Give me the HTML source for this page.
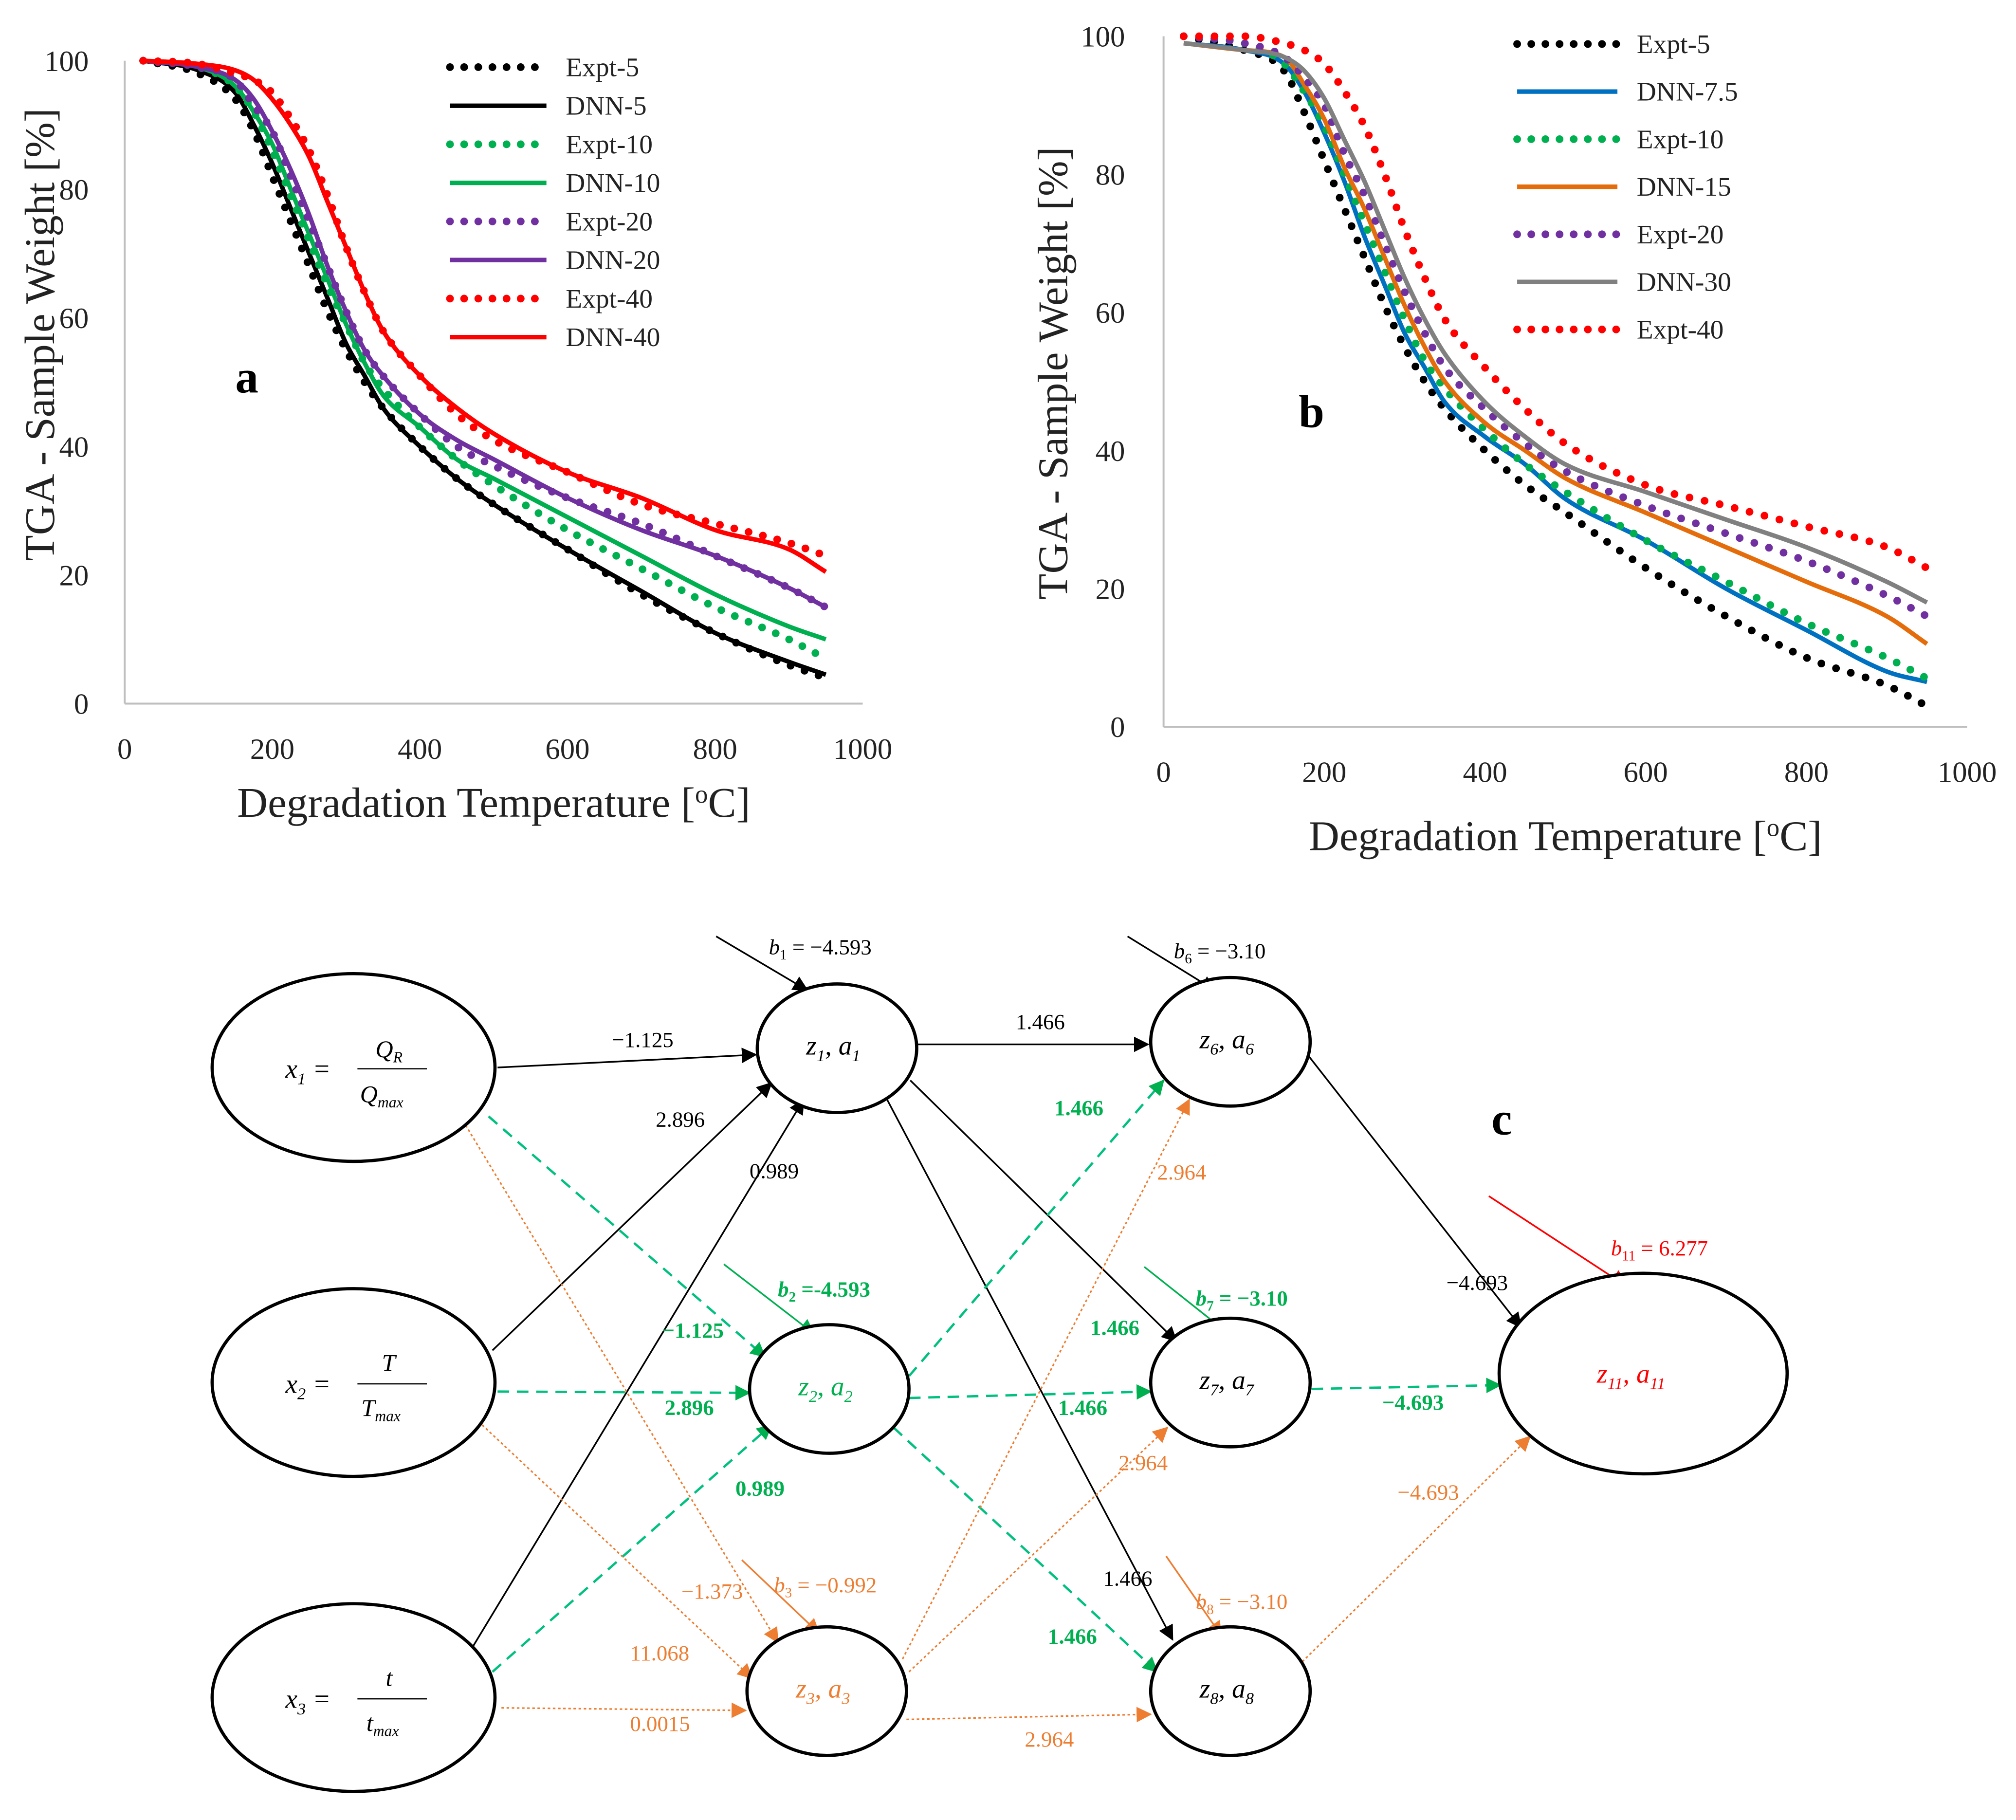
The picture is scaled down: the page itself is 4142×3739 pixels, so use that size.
<!DOCTYPE html>
<html><head><meta charset="utf-8"><style>
html,body{margin:0;padding:0;background:#fff;}
svg{display:block;}
text{font-family:"Liberation Serif",serif;}
.tick{font-size:23px;fill:#222;}
.leg{font-size:21px;fill:#222;}
.mono{font-family:"Liberation Serif",serif;font-size:17px;}
</style></head><body>
<svg id="root" width="4142" height="3739" viewBox="0 0 1568 1415" xmlns="http://www.w3.org/2000/svg">
<defs>
<marker id="ag" markerWidth="12" markerHeight="12" refX="11" refY="6" orient="auto" markerUnits="userSpaceOnUse"><path d="M0,0 L12,6 L0,12 z" fill="#00b050"/></marker>
<marker id="ao" markerWidth="12" markerHeight="12" refX="11" refY="6" orient="auto" markerUnits="userSpaceOnUse"><path d="M0,0 L12,6 L0,12 z" fill="#ed7d31"/></marker>
<marker id="ab" markerWidth="12" markerHeight="12" refX="11" refY="6" orient="auto" markerUnits="userSpaceOnUse"><path d="M0,0 L12,6 L0,12 z" fill="#000"/></marker>
<marker id="ar" markerWidth="14" markerHeight="14" refX="12" refY="7" orient="auto" markerUnits="userSpaceOnUse"><path d="M0,0 L14,7 L0,14 z" fill="#ff0000"/></marker>
</defs>
<g id="chartA"></g>
<g id="chartB"></g>
<text x="183" y="305" font-size="36" font-weight="bold">a</text>
<text x="1010" y="332" font-size="36" font-weight="bold">b</text>
<text x="1160" y="882" font-size="36" font-weight="bold">c</text>

<g id="network" fill="none" stroke-width="1.3">
<g stroke="#000">
<line x1="387" y1="830" x2="588" y2="820" marker-end="url(#ab)"/>
<line x1="383" y1="1050" x2="600" y2="842" marker-end="url(#ab)"/>
<line x1="368" y1="1280" x2="625" y2="855" marker-end="url(#ab)"/>
<line x1="557" y1="728" x2="628" y2="770" marker-end="url(#ab)"/>
<line x1="713" y1="812" x2="893" y2="812" marker-end="url(#ab)"/>
<line x1="708" y1="840" x2="915" y2="1043" marker-end="url(#ab)"/>
<line x1="690" y1="855" x2="912" y2="1275" marker-end="url(#ab)"/>
<line x1="877" y1="728" x2="945" y2="770" marker-end="url(#ab)"/>
<line x1="1017" y1="820" x2="1183" y2="1032" marker-end="url(#ab)"/>
</g>
<g stroke="#00c080" stroke-width="1.8" stroke-dasharray="9 6">
<line x1="380" y1="868" x2="595" y2="1055" marker-end="url(#ag)"/>
<line x1="387" y1="1082" x2="583" y2="1083" marker-end="url(#ag)"/>
<line x1="383" y1="1300" x2="600" y2="1108" marker-end="url(#ag)"/>
<line x1="707" y1="1070" x2="905" y2="840" marker-end="url(#ag)"/>
<line x1="707" y1="1087" x2="895" y2="1082" marker-end="url(#ag)"/>
<line x1="695" y1="1110" x2="900" y2="1300" marker-end="url(#ag)"/>
<line x1="1020" y1="1080" x2="1167" y2="1077" marker-end="url(#ag)"/>
</g>
<line x1="563" y1="983" x2="633" y2="1037" stroke="#00b050" marker-end="url(#ag)"/>
<line x1="890" y1="985" x2="953" y2="1035" stroke="#00b050" marker-end="url(#ag)"/>
<g stroke="#ed7d31" stroke-width="1.2" stroke-dasharray="2 2">
<line x1="358" y1="868" x2="605" y2="1277" marker-end="url(#ao)"/>
<line x1="375" y1="1108" x2="585" y2="1305" marker-end="url(#ao)"/>
<line x1="390" y1="1328" x2="580" y2="1330" marker-end="url(#ao)"/>
<line x1="702" y1="1290" x2="925" y2="855" marker-end="url(#ao)"/>
<line x1="707" y1="1300" x2="908" y2="1110" marker-end="url(#ao)"/>
<line x1="705" y1="1337" x2="895" y2="1333" marker-end="url(#ao)"/>
<line x1="1010" y1="1295" x2="1190" y2="1117" marker-end="url(#ao)"/>
</g>
<line x1="577" y1="1213" x2="637" y2="1270" stroke="#ed7d31" marker-end="url(#ao)"/>
<line x1="907" y1="1210" x2="950" y2="1272" stroke="#ed7d31" marker-end="url(#ao)"/>
<line x1="1158" y1="930" x2="1265" y2="1000" stroke="#ff0000" marker-end="url(#ar)"/>
<g stroke="#000" stroke-width="2.5" fill="#fff">
<ellipse cx="275" cy="830" rx="110" ry="73"/>
<ellipse cx="275" cy="1075" rx="110" ry="73"/>
<ellipse cx="275" cy="1320" rx="110" ry="73"/>
<ellipse cx="651" cy="815" rx="62" ry="50"/>
<ellipse cx="645" cy="1080" rx="62" ry="50"/>
<ellipse cx="643" cy="1315" rx="62" ry="50"/>
<ellipse cx="957" cy="810" rx="62" ry="50"/>
<ellipse cx="957" cy="1075" rx="62" ry="50"/>
<ellipse cx="957" cy="1315" rx="62" ry="50"/>
<ellipse cx="1278" cy="1068" rx="112" ry="78"/>
</g>
</g>
<g font-style="italic" font-size="21" fill="#000" stroke="none">
<text x="222" y="838">x<tspan font-size="13" dy="5">1</tspan><tspan dy="-5"> = </tspan></text>
<text x="292" y="822" font-size="19">Q<tspan font-size="12" dy="4">R</tspan></text><line x1="278" y1="831" x2="332" y2="831" stroke="#000"/>
<text x="280" y="857" font-size="19">Q<tspan font-size="12" dy="4">max</tspan></text>
<text x="222" y="1083">x<tspan font-size="13" dy="5">2</tspan><tspan dy="-5"> = </tspan></text>
<text x="297" y="1066" font-size="19">T</text><line x1="278" y1="1076" x2="332" y2="1076" stroke="#000"/>
<text x="281" y="1101" font-size="19">T<tspan font-size="12" dy="4">max</tspan></text>
<text x="222" y="1328">x<tspan font-size="13" dy="5">3</tspan><tspan dy="-5"> = </tspan></text>
<text x="300" y="1311" font-size="19">t</text><line x1="278" y1="1321" x2="332" y2="1321" stroke="#000"/>
<text x="285" y="1346" font-size="19">t<tspan font-size="12" dy="4">max</tspan></text>
<text x="627" y="820">z<tspan font-size="13" dy="5">1</tspan><tspan dy="-5">, a</tspan><tspan font-size="13" dy="5">1</tspan></text>
<text x="621" y="1085" fill="#00b050">z<tspan font-size="13" dy="5">2</tspan><tspan dy="-5">, a</tspan><tspan font-size="13" dy="5">2</tspan></text>
<text x="619" y="1320" fill="#ed7d31">z<tspan font-size="13" dy="5">3</tspan><tspan dy="-5">, a</tspan><tspan font-size="13" dy="5">3</tspan></text>
<text x="933" y="815">z<tspan font-size="13" dy="5">6</tspan><tspan dy="-5">, a</tspan><tspan font-size="13" dy="5">6</tspan></text>
<text x="933" y="1080">z<tspan font-size="13" dy="5">7</tspan><tspan dy="-5">, a</tspan><tspan font-size="13" dy="5">7</tspan></text>
<text x="933" y="1320">z<tspan font-size="13" dy="5">8</tspan><tspan dy="-5">, a</tspan><tspan font-size="13" dy="5">8</tspan></text>
<text x="1242" y="1075" fill="#ff0000">z<tspan font-size="13" dy="5">11</tspan><tspan dy="-5">, a</tspan><tspan font-size="13" dy="5">11</tspan></text>
</g>
<g class="mono">
<text x="476" y="814" fill="#000">−1.125</text>
<text x="510" y="876" fill="#000">2.896</text>
<text x="583" y="916" fill="#000">0.989</text>
<text x="598" y="742" fill="#000"><tspan font-style="italic">b</tspan><tspan font-size="11" dy="4">1</tspan><tspan dy="-4"> = −4.593</tspan></text>
<text x="790" y="800" fill="#000">1.466</text>
<text x="913" y="745" fill="#000"><tspan font-style="italic">b</tspan><tspan font-size="11" dy="4">6</tspan><tspan dy="-4"> =  −3.10</tspan></text>
<text x="1125" y="1003" fill="#000">−4.693</text>
<text x="858" y="1233" fill="#000">1.466</text>
<text x="823" y="1100" fill="#00b050" font-weight="bold">1.466</text>
<g fill="#00b050" font-weight="bold">
<text x="515" y="1040">−1.125</text>
<text x="517" y="1100">2.896</text>
<text x="572" y="1163">0.989</text>
<text x="605" y="1008"><tspan font-style="italic">b</tspan><tspan font-size="11" dy="4">2</tspan><tspan dy="-4"> =-4.593</tspan></text>
<text x="820" y="867">1.466</text>
<text x="848" y="1038">1.466</text>
<text x="815" y="1278">1.466</text>
<text x="930" y="1015"><tspan font-style="italic">b</tspan><tspan font-size="11" dy="4">7</tspan><tspan dy="-4"> =  −3.10</tspan></text>
<text x="1075" y="1096">−4.693</text>
</g>
<g fill="#ed7d31">
<text x="530" y="1243">−1.373</text>
<text x="490" y="1291">11.068</text>
<text x="490" y="1346">0.0015</text>
<text x="602" y="1238"><tspan font-style="italic">b</tspan><tspan font-size="11" dy="4">3</tspan><tspan dy="-4"> = −0.992</tspan></text>
<text x="900" y="917">2.964</text>
<text x="870" y="1143">2.964</text>
<text x="797" y="1358">2.964</text>
<text x="930" y="1251"><tspan font-style="italic">b</tspan><tspan font-size="11" dy="4">8</tspan><tspan dy="-4"> =  −3.10</tspan></text>
<text x="1087" y="1166">−4.693</text>
</g>
<text x="1253" y="976" fill="#ff0000"><tspan font-style="italic">b</tspan><tspan font-size="11" dy="4">11</tspan><tspan dy="-4"> = 6.277</tspan></text>
</g>
</svg>
<script>
const temps = [25,100,150,175,200,225,250,275,300,325,350,400,450,500,600,700,800,900,950];
const aExpt5  = [100,98,94,89,82,75,68,61,55,50,46,40,35,31,24,17,11,6,4];
const aDnn5   = [100,98.5,95,90,84,77,70,63,56,51,46,40,35,31,24,17.5,11,6.5,4.5];
const aExpt10 = [100,99,96,92,86,79,72,65,59,53,49,43,38,34,27,21,15,10,7];
const aDnn10  = [100,99,96,92,87,80,73,66,59,53,48,43,38,35,29,23,17,12,10];
const aExpt20 = [100,99,97,93,89,82,75,68,61,55,51,45,40,37,32,28,23,18,15];
const aDnn20  = [100,99,97,94,89,83,76,68,61,55,51,45,41,38,32,27,23,18,15];
const aExpt40 = [100,99.5,98,97,95,91,86,79,71,64,58,51,45,41,36,31,28,25,23];
const aDnn40  = [100,99.5,98.5,97,94,90,85,78,71,64,58,51,46,42,36,32,27,24,20.5];
const bExpt5  = [100,98,95,89,82,75,68,61,55,50,46,40,35,31,23,16,10,6,3];
const bDnn75  = [99,98,96,92,86,79,71,64,57,52,47,42,38,33,27,20,14,8,6.5];
const bExpt10 = [100,99,96,92,87,80,73,66,59,53,49,43,38,34,27,21,15,10,7];
const bDnn15  = [99,98,97,93,88,81,75,68,61,55,50,44,40,36,31,26,21,16,12];
const bExpt20 = [100,99,97,94,90,83,77,70,63,57,52,46,41,37,32,28,24,19,16];
const bDnn30  = [99,98,97,95,91,85,79,72,65,59,54,47,42,38,34,30,26,21,18];
const bExpt40 = [100,100,99,98,96,92,87,80,72,65,59,52,46,41,35,32,29,26,23];
const xTicks = [0,200,400,600,800,1000];
const yTicks = [0,20,40,60,80,100];
const NS="http://www.w3.org/2000/svg";
function mk(tag,attrs,parent){const e=document.createElementNS(NS,tag);for(const k in attrs)e.setAttribute(k,attrs[k]);parent.appendChild(e);return e;}
function pathD(xs,ys){
  const n=xs.length,d=[],m=[];
  for(let i=0;i<n-1;i++)d.push((ys[i+1]-ys[i])/(xs[i+1]-xs[i]));
  m[0]=d[0];m[n-1]=d[n-2];
  for(let i=1;i<n-1;i++){m[i]=(d[i-1]*d[i]<=0)?0:(d[i-1]+d[i])/2;}
  for(let i=0;i<n-1;i++){if(d[i]===0){m[i]=0;m[i+1]=0;continue;}const a=m[i]/d[i],b=m[i+1]/d[i],s=a*a+b*b;if(s>9){const t=3/Math.sqrt(s);m[i]=t*a*d[i];m[i+1]=t*b*d[i];}}
  let p="M"+xs[0]+","+ys[0];
  for(let i=0;i<n-1;i++){const h=(xs[i+1]-xs[i])/3;p+=" C"+(xs[i]+h)+","+(ys[i]+m[i]*h)+" "+(xs[i+1]-h)+","+(ys[i+1]-m[i+1]*h)+" "+xs[i+1]+","+ys[i+1];}
  return p;
}
function chart(g,cfg){
  const sx=v=>cfg.x0+(v/1000)*(cfg.x1-cfg.x0), sy=v=>cfg.y0-(v/100)*(cfg.y0-cfg.y1);
  const ax=mk("line",{x1:sx(0),y1:sy(0),x2:sx(1000),y2:sy(0),stroke:"#bfbfbf","stroke-width":1.5},g);
  
  
  const ay=mk("line",{x1:sx(0),y1:sy(0),x2:sx(0),y2:sy(100),stroke:"#bfbfbf","stroke-width":1.5},g);
  
  
  xTicks.forEach(t=>{const e=mk("text",{x:sx(t),y:sy(0)+cfg.xlOff,"text-anchor":"middle",class:"tick"},g);e.textContent=t;
    
    });
  yTicks.forEach(t=>{const e=mk("text",{x:sx(0)-cfg.ylOff,y:sy(t)+8,"text-anchor":"end",class:"tick"},g);e.textContent=t;
    
    });
  const xt=mk("text",{x:(sx(0)+sx(1000))/2,y:cfg.xtY,"text-anchor":"middle","font-size":33,fill:"#222"},g);
  xt.innerHTML='Degradation Temperature [<tspan font-size="20" dy="-11">o</tspan><tspan dy="11">C]</tspan>';
  
  
  const yt=mk("text",{x:0,y:0,"text-anchor":"middle","font-size":33,fill:"#222",transform:"translate("+cfg.ytX+","+cfg.ytY+") rotate(-90)"},g);
  yt.textContent="TGA - Sample Weight [%]";
  
  
  cfg.series.forEach((s,i)=>{
    const xs=temps.map(sx), ys=s.vals.map(sy);
    const attrs={d:pathD(xs,ys),fill:"none",stroke:s.color};
    if(s.dot){attrs["stroke-width"]=6;attrs["stroke-dasharray"]="0 "+cfg.gap;attrs["stroke-linecap"]="round";}else{attrs["stroke-width"]=3.5;}
    const p=mk("path",attrs,g);
    
    
    const ly=cfg.legY+i*cfg.legDy;
    const la={x1:cfg.legX,y1:ly,x2:cfg.legX+cfg.legW,y2:ly,stroke:s.color};
    if(s.dot){la["stroke-width"]=6;la["stroke-dasharray"]="0 11";la["stroke-linecap"]="round";}else la["stroke-width"]=3.5;
    const l=mk("line",la,g);
    
    
    const lt=mk("text",{x:cfg.legX+cfg.legW+15,y:ly+7,class:"leg"},g);lt.textContent=s.name;
    
    
  });
}
chart(document.getElementById("chartA"),{x0:97,x1:671,y0:547,y1:47,xlOff:43,ylOff:28,xtY:635,ytX:42,ytY:260,gap:11.5,legX:350,legW:75,legY:52,legDy:30,
 series:[{name:"Expt-5",vals:aExpt5,color:"#000",dot:1},{name:"DNN-5",vals:aDnn5,color:"#000"},{name:"Expt-10",vals:aExpt10,color:"#00b050",dot:1},{name:"DNN-10",vals:aDnn10,color:"#00b050"},{name:"Expt-20",vals:aExpt20,color:"#7030a0",dot:1},{name:"DNN-20",vals:aDnn20,color:"#7030a0"},{name:"Expt-40",vals:aExpt40,color:"#ff0000",dot:1},{name:"DNN-40",vals:aDnn40,color:"#ff0000"}]});
chart(document.getElementById("chartB"),{x0:905,x1:1530,y0:565,y1:28,xlOff:43,ylOff:30,xtY:661,ytX:830,ytY:290,gap:12,legX:1180,legW:78,legY:34,legDy:37,
 series:[{name:"Expt-5",vals:bExpt5,color:"#000",dot:1},{name:"DNN-7.5",vals:bDnn75,color:"#0070c0"},{name:"Expt-10",vals:bExpt10,color:"#00b050",dot:1},{name:"DNN-15",vals:bDnn15,color:"#e46c0a"},{name:"Expt-20",vals:bExpt20,color:"#7030a0",dot:1},{name:"DNN-30",vals:bDnn30,color:"#808080"},{name:"Expt-40",vals:bExpt40,color:"#ff0000",dot:1}]});
</script>
</body></html>
